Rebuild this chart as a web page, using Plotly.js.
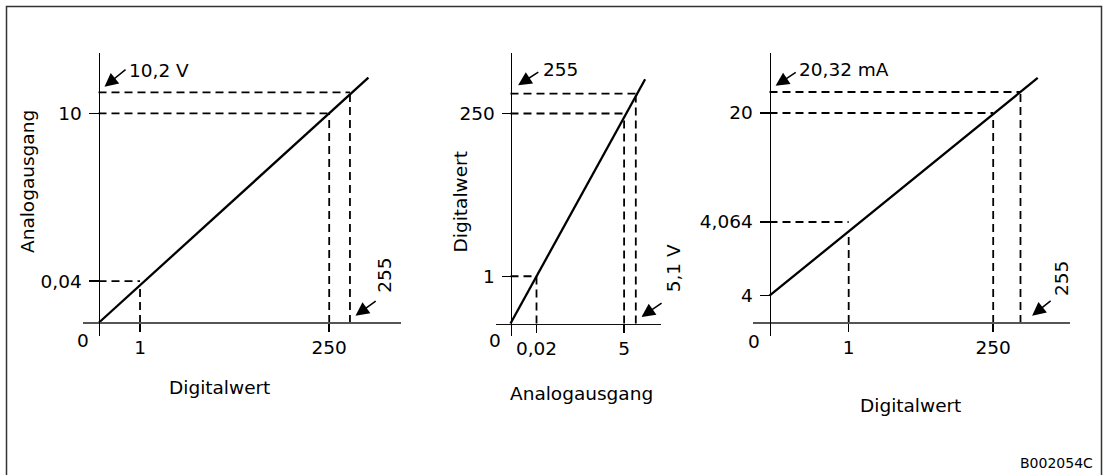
<!DOCTYPE html>
<html><head><meta charset="utf-8">
<script src="https://cdn.plot.ly/plotly-3.0.1.min.js"></script>
<style>html,body{margin:0;padding:0;background:#fff}#chart{width:1103px;height:475px}</style>
</head><body><div id="chart"></div>
<script>
// ---------------- DATA (schematic units, full scale = 100) ----------------
// Panel 1: Digitalwert -> Analogausgang (0 ... 10 V)
const p1XTickText = ['1', '250'];
const p1XTickVals = [18, 100];
const p1YTickText = ['0,04', '10'];
const p1YTickVals = [20, 100];
const p1LineX = [0, 117];
const p1LineY = [0, 117];
const p1GuideX = [18, 100, 109];
const p1GuideY = [20, 100, 110];
const p1MaxXText = '255';
const p1MaxYText = '10,2 V';
const p1XTitle = 'Digitalwert';
const p1YTitle = 'Analogausgang';

// Panel 2: Analogausgang -> Digitalwert (0 ... 5 V)
const p2XTickText = ['0,02', '5'];
const p2XTickVals = [22.9, 100];
const p2YTickText = ['1', '250'];
const p2YTickVals = [22.5, 100];
const p2LineX = [0, 118.5];
const p2LineY = [0, 116.3];
const p2GuideX = [22.9, 100, 110.3];
const p2GuideY = [22.5, 100, 109.5];
const p2MaxXText = '5,1 V';
const p2MaxYText = '255';
const p2XTitle = 'Analogausgang';
const p2YTitle = 'Digitalwert';

// Panel 3: Digitalwert -> Analogausgang (4 ... 20 mA)
const p3XTickText = ['1', '250'];
const p3XTickVals = [35.4, 100];
const p3YTickText = ['4', '4,064', '20'];
const p3YTickVals = [13, 48.1, 100];
const p3LineX = [0, 119.9];
const p3LineY = [13, 116.7];
const p3GuideX = [35.4, 100, 112.2];
const p3GuideY = [48.1, 100, 110];
const p3MaxXText = '255';
const p3MaxYText = '20,32 mA';
const p3XTitle = 'Digitalwert';

const originText = '0';
const figureCode = 'B002054C';

// ---------------- LAYOUT ----------------
const W = 1103, H = 475;
const FONT = 'DejaVu Sans, Liberation Sans, Arial, sans-serif';
const FS = 18.5;
const INK = '#000';

const panels = [
  {xTT: p1XTickText, xTV: p1XTickVals, yTT: p1YTickText, yTV: p1YTickVals, lx: p1LineX, ly: p1LineY, gx: p1GuideX, gy: p1GuideY,
   frame: {left: 83, right: 401, top: 52.5, bottom: 336, ox: 98.5, oy: 323, ux: 2.307, uy: 2.097},
   xLineColor: '#555', xLineWidth: 2, yTickLen: 10},
  {xTT: p2XTickText, xTV: p2XTickVals, yTT: p2YTickText, yTV: p2YTickVals, lx: p2LineX, ly: p2LineY, gx: p2GuideX, gy: p2GuideY,
   frame: {left: 496, right: 660.7, top: 52.5, bottom: 336, ox: 510.5, oy: 323.5, ux: 1.136, uy: 2.1},
   xLineColor: '#111', xLineWidth: 1.2, yTickLen: 9},
  {xTT: p3XTickText, xTV: p3XTickVals, yTT: p3YTickText, yTV: p3YTickVals, lx: p3LineX, ly: p3LineY, gx: p3GuideX, gy: p3GuideY,
   frame: {left: 753.3, right: 1070, top: 52.5, bottom: 336, ox: 769.5, oy: 323, ux: 2.237, uy: 2.1},
   xLineColor: '#555', xLineWidth: 2, yTickLen: 10}
];

const px = v => v / W;
const py = v => 1 - v / H;

const traces = [];
const layout = {
  width: W, height: H,
  margin: {l: 0, r: 0, t: 0, b: 0},
  paper_bgcolor: '#fff', plot_bgcolor: 'rgba(0,0,0,0)',
  showlegend: false,
  font: {family: FONT, size: FS, color: INK},
  annotations: [],
  shapes: [{type: 'rect', xref: 'paper', yref: 'paper', x0: px(6.5), x1: px(1101.5), y0: -0.1, y1: py(6.5),
            line: {color: '#333', width: 1.5}, fillcolor: 'rgba(0,0,0,0)'}]
};

panels.forEach((p, i) => {
  const n = i === 0 ? '' : String(i + 1);
  const f = p.frame;
  const xr = [(f.left - f.ox) / f.ux, (f.right - f.ox) / f.ux];
  const yr = [(f.oy - f.bottom) / f.uy, (f.oy - f.top) / f.uy];
  const xd = [px(f.left), px(f.right)];
  const yd = [py(f.bottom), py(f.top)];
  const xPos = yd[0] + (0 - yr[0]) / (yr[1] - yr[0]) * (yd[1] - yd[0]);
  const yPos = xd[0] + (0 - xr[0]) / (xr[1] - xr[0]) * (xd[1] - xd[0]);

  layout['xaxis' + n] = {
    domain: xd, range: xr, anchor: 'free', position: xPos,
    showgrid: false, zeroline: false, showline: true, linecolor: p.xLineColor, linewidth: p.xLineWidth,
    ticks: 'outside', ticklen: 8, tickwidth: 1.6, tickcolor: INK,
    tickvals: p.xTV, ticktext: p.xTT, tickfont: {family: FONT, size: FS, color: INK},
    ticklabelstandoff: 0, fixedrange: true
  };
  layout['yaxis' + n] = {
    domain: yd, range: yr, anchor: 'free', position: yPos,
    showgrid: false, zeroline: false, showline: true, linecolor: INK, linewidth: 1.3,
    ticks: 'outside', ticklen: p.yTickLen, tickwidth: 1.2, tickcolor: INK,
    tickvals: p.yTV, ticktext: p.yTT, tickfont: {family: FONT, size: FS, color: INK},
    ticklabelstandoff: 3, fixedrange: true
  };

  const lineAt = x => p.ly[0] + (x - p.lx[0]) * (p.ly[1] - p.ly[0]) / (p.lx[1] - p.lx[0]);
  const gX = [], gY = [];
  p.gx.forEach((gx, k) => {
    const gy = p.gy[k];
    gX.push(0, gx, null, gx, gx, null);
    gY.push(gy, gy, null, 0, lineAt(gx), null);
  });
  traces.push({x: gX, y: gY, xaxis: 'x' + n, yaxis: 'y' + n, mode: 'lines', hoverinfo: 'skip',
               line: {color: INK, width: 1.8, dash: '8px,5px'}});
  traces.push({x: p.lx, y: p.ly, xaxis: 'x' + n, yaxis: 'y' + n, mode: 'lines', hoverinfo: 'skip',
               line: {color: INK, width: 2.3}});

  // origin "0"
  layout.annotations.push({xref: 'x' + n, yref: 'y' + n, x: 0, y: 0, text: originText, showarrow: false,
    xanchor: 'center', yanchor: 'middle', xshift: [-15.5, -15.5, -16][i], yshift: [-17, -17, -18.4][i]});
});

// arrows (heads in data units, tails as pixel offsets)
const arrows = [
  {ref: '', x: 2.6, y: 112.7, ax: 22.5, ay: -18.2},
  {ref: '', x: 111.4, y: 3.5, ax: 21.7, ay: -15.7},
  {ref: '2', x: 6.7, y: 113.5, ax: 21.7, ay: -14},
  {ref: '2', x: 115.3, y: 3.1, ax: 21.6, ay: -15},
  {ref: '3', x: 2.7, y: 113.0, ax: 21.7, ay: -14.3},
  {ref: '3', x: 117.4, y: 3.5, ax: 20, ay: -16}
];
arrows.forEach(a => layout.annotations.push({
  xref: 'x' + a.ref, yref: 'y' + a.ref, x: a.x, y: a.y, ax: a.ax, ay: a.ay, text: '',
  showarrow: true, arrowhead: 2, arrowsize: 1.8, arrowwidth: 1.5, arrowcolor: INK, standoff: 0, startstandoff: 0
}));

// text labels (paper positions from the drawing)
const labels = [
  {t: p1MaxYText, x: 127, y: 70, xa: 'left'},
  {t: p1MaxXText, x: 385, y: 275.8, rot: -90},
  {t: p2MaxYText, x: 540.5, y: 69.2, xa: 'left'},
  {t: p2MaxXText, x: 673.3, y: 268, rot: -90},
  {t: p3MaxYText, x: 797, y: 69.3, xa: 'left'},
  {t: p3MaxXText, x: 1061.7, y: 278.3, rot: -90},
  {t: p1XTitle, x: 219.6, y: 387},
  {t: p2XTitle, x: 581.7, y: 393},
  {t: p3XTitle, x: 910, y: 405},
  {t: p1YTitle, x: 27.3, y: 181.7, rot: -90},
  {t: p2YTitle, x: 460.7, y: 201.7, rot: -90},
  {t: figureCode, x: 1056, y: 463, size: 14}
];
labels.forEach(l => layout.annotations.push({
  xref: 'paper', yref: 'paper', x: px(l.x), y: py(l.y), text: l.t, showarrow: false,
  xanchor: l.xa || 'center', yanchor: 'middle', textangle: l.rot || 0,
  font: {family: FONT, size: l.size || FS, color: INK}
}));

Plotly.newPlot('chart', traces, layout, {staticPlot: true, displayModeBar: false});
</script>
</body></html>
